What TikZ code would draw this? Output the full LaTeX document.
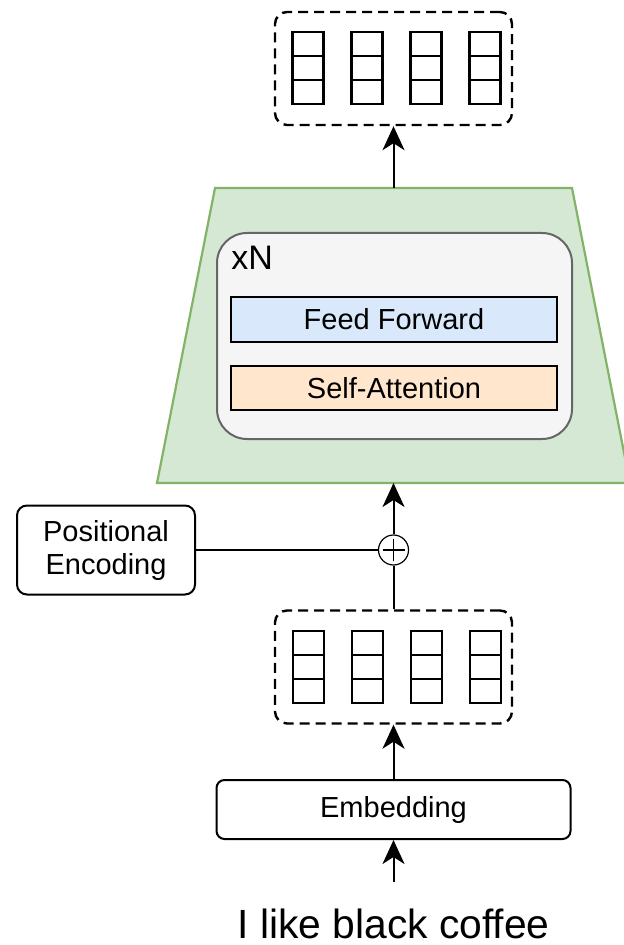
\documentclass[tikz,border=0pt]{standalone}
\usepackage{fontspec}
\setmainfont{Liberation Sans}
\usepackage{xcolor}
\usepackage{tikz}
\usetikzlibrary{shapes,arrows,positioning,calc,arrows.meta}

\definecolor{stackfill}{HTML}{D5E8D4}
\definecolor{stackline}{HTML}{82B366}
\definecolor{layerfill}{HTML}{F5F5F5}
\definecolor{layerline}{HTML}{666666}
\definecolor{fffill}{HTML}{DAE8FC}
\definecolor{safill}{HTML}{FFE6CC}

\begin{document}
\begin{tikzpicture}[x=0.5pt, y=-0.5pt,
    enc stack/.style={fill=stackfill, draw=stackline, line width=1.1pt, line join=miter},
    layer box/.style={draw=layerline, fill=layerfill, rounded corners=15pt, line width=1pt, minimum width=177.5pt, minimum height=103pt, inner sep=0pt},
    sub block/.style={draw, line width=1pt, minimum width=163pt, minimum height=22.3pt, inner sep=0pt, font=\fontsize{14.5}{16.5}\selectfont},
    vec group/.style={draw, dashed, dash pattern=on 5pt off 3pt, line width=1.2pt, rounded corners=6pt, minimum width=118.5pt, minimum height=56.5pt, inner sep=0pt},
    vec cell/.style={draw, line width=1.4pt, minimum width=15.5pt, minimum height=12pt, inner sep=0pt},
    gtu box/.style={draw, line width=1pt, rounded corners=5pt, align=center, inner sep=0pt, font=\fontsize{14.5}{16.5}\selectfont},
    sum node/.style={draw, circle, line width=0.6pt, minimum size=15pt, inner sep=0pt,
        path picture={\draw[line width=0.6pt] ([xshift=-5.5pt]path picture bounding box.center) -- ([xshift=5.5pt]path picture bounding box.center);
                      \draw[line width=0.6pt] ([yshift=-5.5pt]path picture bounding box.center) -- ([yshift=5.5pt]path picture bounding box.center);}},
    arr/.style={-{Stealth[length=12pt, width=11pt, inset=3.5pt]}, line width=1pt},
    line/.style={line width=1pt}]
    \useasboundingbox (0,0) rectangle (623,945);

    % encoder stack
    \coordinate (stack-top) at (393.5,188);
    \coordinate (stack-bot) at (393.5,483);
    \draw[enc stack] (157,483) -- (215,188) -- (572,188) -- (630,483) -- cycle;
    \node[layer box] (layer) at (394.5,336) {};
    \node[anchor=base west, inner sep=0pt, font=\fontsize{17}{20}\selectfont] (rep) at (231,270) {xN};
    \node[sub block, fill=fffill] (ff) at (394,319.5) {Feed Forward};
    \node[sub block, fill=safill] (sa) at (394,388) {Self-Attention};

    % output vectors
    \node[vec group] (outvec) at (393.5,68.5) {};
    \foreach \c in {0,...,3}
        \foreach \r in {0,1,2}
            \node[vec cell] (out-\c-\r) at (308+59*\c,44+24*\r) {};

    % input vectors
    \node[vec group] (invec) at (393.5,667) {};
    \foreach \c in {0,...,3}
        \foreach \r in {0,1,2}
            \node[vec cell] (in-\c-\r) at (308.5+59*\c,643+24*\r) {};

    \node[sum node] (add) at (393.5,550) {};
    \node[gtu box, minimum width=89pt, minimum height=44.5pt] (pe) at (106,550) {Positional\\Encoding};
    \node[gtu box, rounded corners=4pt, minimum width=177pt, minimum height=29.5pt] (emb) at (393.5,809.5) {Embedding};
    \node[anchor=base, inner sep=0pt, font=\fontsize{20.4}{24}\selectfont] (words) at (393.5,938) {I like black coffee};

    \draw[arr] ([yshift=13pt]words.north) -- (emb.south);
    \draw[arr] (emb.north) -- (invec.south);
    \draw[line] (invec.north) -- (add.south);
    \draw[line] (pe.east) -- (add.west);
    \draw[arr] (add.north) -- (stack-bot);
    \draw[arr] (stack-top) -- (outvec.south);

\end{tikzpicture}
\end{document}
